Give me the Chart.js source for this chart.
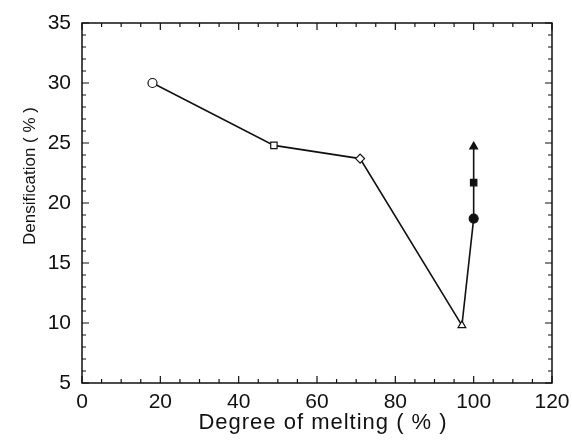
<!DOCTYPE html>
<html>
<head>
<meta charset="utf-8">
<script src="https://cdn.jsdelivr.net/npm/chart.js@4"></script>
<style>
  html, body { margin: 0; padding: 0; background: #fff; }
  #wrap { width: 572px; height: 445px; }
</style>
</head>
<body>
<div id="wrap"><canvas id="chart" width="572" height="445"></canvas></div>
<script>
// values
const meltingDegree = [18, 49, 71, 97, 100, 100, 100];
const densification = [30, 24.8, 23.7, 9.8, 18.7, 21.7, 24.7];
const markerShapes = ['circle', 'rect', 'rectRot', 'triangle', 'circle', 'rect', 'triangle'];
const markerFilled = [false, false, false, false, true, true, true];
const xTicks = [0, 20, 40, 60, 80, 100, 120];
const yTicks = [5, 10, 15, 20, 25, 30, 35];
const xTitle = 'Degree of melting ( % )';
const yTitle = 'Densification ( % )';

const FONT = '"Liberation Sans", Arial, Helvetica, sans-serif';

// inward ticks on all four sides + frame + axis titles
const frameTicks = {
    id: 'frameTicks',
    afterDraw(chart) {
        const { ctx, chartArea: a, scales: { x, y } } = chart;
        ctx.save();
        ctx.strokeStyle = '#111';
        ctx.lineWidth = 1.5;
        ctx.strokeRect(a.left, a.top, a.right - a.left, a.bottom - a.top);

        ctx.lineWidth = 1.2;
        ctx.beginPath();
        for (let v = x.min; v <= x.max; v += 5) {
            const px = x.getPixelForValue(v);
            const len = v % 20 === 0 ? 7 : 4;
            ctx.moveTo(px, a.bottom); ctx.lineTo(px, a.bottom - len);
            ctx.moveTo(px, a.top); ctx.lineTo(px, a.top + len);
        }
        for (let v = y.min; v <= y.max; v += 1) {
            const py = y.getPixelForValue(v);
            const len = v % 5 === 0 ? 7 : 4;
            ctx.moveTo(a.left, py); ctx.lineTo(a.left + len, py);
            ctx.moveTo(a.right, py); ctx.lineTo(a.right - len, py);
        }
        ctx.stroke();

        ctx.fillStyle = '#111';
        ctx.textAlign = 'center';
        ctx.textBaseline = 'middle';
        ctx.font = '22px ' + FONT;
        ctx.letterSpacing = '1px';
        ctx.fillText(xTitle, (a.left + a.right) / 2 + 6, 423);
        ctx.letterSpacing = '0px';
        ctx.font = '17px ' + FONT;
        ctx.translate(30, 176);
        ctx.rotate(-Math.PI / 2);
        ctx.fillText(yTitle, 0, 0);
        ctx.restore();
    }
};

new Chart(document.getElementById('chart'), {
    type: 'scatter',
    data: {
        datasets: [{
            data: meltingDegree.map((d, i) => ({ x: d, y: densification[i] })),
            showLine: true,
            borderColor: '#111',
            borderWidth: 1.6,
            pointStyle: markerShapes,
            pointRadius: 4.5,
            pointBorderWidth: 1.2,
            pointBorderColor: '#111',
            pointBackgroundColor: markerFilled.map(f => f ? '#111' : '#fff')
        }]
    },
    options: {
        responsive: false,
        animation: false,
        layout: { padding: { top: 23, right: 20, left: 0, bottom: 0 } },
        plugins: { legend: { display: false }, tooltip: { enabled: false } },
        scales: {
            x: {
                type: 'linear',
                min: 0, max: 120,
                afterBuildTicks: s => { s.ticks = xTicks.map(v => ({ value: v })); },
                afterFit: s => { s.height = 62; s.paddingRight = 0; s.paddingLeft = 0; },
                grid: { display: false, drawTicks: false },
                border: { display: false },
                ticks: { color: '#111', font: { size: 21, family: FONT }, padding: 7, maxRotation: 0 }
            },
            y: {
                type: 'linear',
                min: 5, max: 35,
                afterBuildTicks: s => { s.ticks = yTicks.map(v => ({ value: v })); },
                afterFit: s => { s.width = 82; s.paddingTop = 0; s.paddingBottom = 0; },
                grid: { display: false, drawTicks: false },
                border: { display: false },
                ticks: { color: '#111', font: { size: 21, family: FONT }, padding: 11 }
            }
        }
    },
    plugins: [frameTicks]
});
</script>
</body>
</html>
